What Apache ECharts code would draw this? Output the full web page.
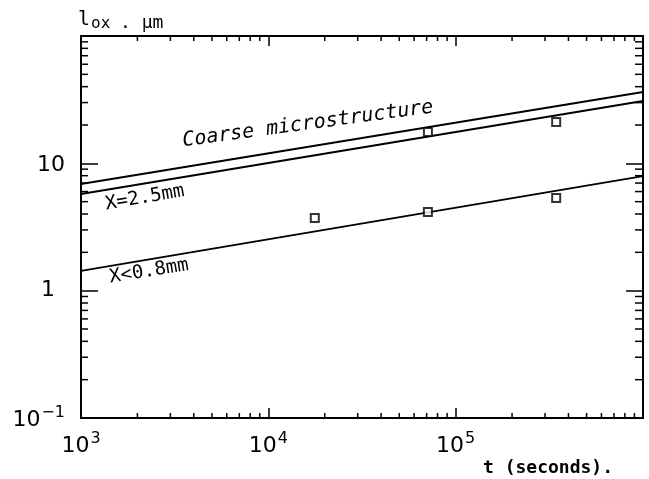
<!DOCTYPE html>
<html>
<head>
<meta charset="utf-8">
<script src="https://cdn.jsdelivr.net/npm/echarts@6/dist/echarts.min.js"></script>
<style>html,body{margin:0;padding:0;background:#fff}#c{width:649px;height:479px}</style>
</head>
<body>
<div id="c"></div>
<script>
// Axis ranges and tick values
const xRange = [1e3, 1e6];
const yRange = [0.1, 100];
const xDecades = [1e3, 1e4, 1e5];
const yDecades = [0.1, 1, 10];
const minorMultipliers = [2, 3, 4, 5, 6, 7, 8, 9];

// Fitted lines (endpoints at t = 1e3 and 1e6)
const coarseLine = [[1e3, 6.88], [1e6, 36.3]];
const x25Line = [[1e3, 5.74], [1e6, 30.9]];
const x08Line = [[1e3, 1.43], [1e6, 7.94]];

// Measured points
const pointsT = [1.77e4, 7.11e4, 7.11e4, 3.44e5, 3.44e5];
const pointsL = [3.72, 17.6, 4.15, 21.1, 5.35];

// Annotation texts
const lineLabels = ['Coarse microstructure', 'X=2.5mm', 'X<0.8mm'];
const yTitleMain = 'l';
const yTitleSub = 'ox';
const yTitleUnit = '. µm';
const xTitle = 't (seconds).';

const xMinor = [];
xDecades.forEach(d => minorMultipliers.forEach(m => xMinor.push(d * m)));
const yMinor = [];
yDecades.forEach(d => minorMultipliers.forEach(m => yMinor.push(+(d * m).toPrecision(3))));

const chart = echarts.init(document.getElementById('c'), null, {renderer: 'canvas'});

const labelFont = 'DejaVu Sans';
const rich = {
  b: {fontFamily: labelFont, fontSize: 22, color: '#000', lineHeight: 26, verticalAlign: 'bottom'},
  s: {fontFamily: labelFont, fontSize: 16, color: '#000', lineHeight: 26, verticalAlign: 'top', padding: [0, 0, 0, 1]},
  one: {fontFamily: labelFont, fontSize: 22, color: '#000', lineHeight: 26, padding: [0, 10, 0, 0]}
};

function xFmt(v) {
  if (v >= xRange[1] * 0.99) return '';
  const e = Math.round(Math.log10(v));
  return '{b|10}{s|' + e + '}';
}
function yFmt(v) {
  if (v >= yRange[1] * 0.99) return '';
  const e = Math.round(Math.log10(v));
  if (e === 0) return '{one|1}';
  if (e === 1) return '{b|10}';
  return '{b|10}{s|' + (e < 0 ? '\u2212' : '') + Math.abs(e) + '}';
}

const axisLine = {show: true, lineStyle: {color: '#000', width: 2}};

const option = {
  animation: false,
  backgroundColor: '#fff',
  grid: {left: 81, top: 36, right: 6, bottom: 61, containLabel: false},
  xAxis: [
    {type: 'log', logBase: 10, min: xRange[0], max: xRange[1], position: 'bottom',
     axisLine, splitLine: {show: false},
     axisTick: {show: true, inside: true, length: 10, lineStyle: {color: '#000', width: 1.5}},
     axisLabel: {show: true, margin: 13, formatter: xFmt, rich, showMaxLabel: false}},
    {type: 'log', logBase: 10, min: xRange[0], max: xRange[1], position: 'top',
     axisLine, splitLine: {show: false},
     axisTick: {show: true, inside: true, length: 10, lineStyle: {color: '#000', width: 1.5}},
     axisLabel: {show: false}}
  ],
  yAxis: [
    {type: 'log', logBase: 10, min: yRange[0], max: yRange[1], position: 'left',
     axisLine, splitLine: {show: false},
     axisTick: {show: true, inside: true, length: 17, lineStyle: {color: '#000', width: 1.5}},
     axisLabel: {show: true, margin: 16, formatter: yFmt, rich, showMaxLabel: false}},
    {type: 'log', logBase: 10, min: yRange[0], max: yRange[1], position: 'right',
     axisLine, splitLine: {show: false},
     axisTick: {show: true, inside: true, length: 17, lineStyle: {color: '#000', width: 1.5}},
     axisLabel: {show: false}}
  ],
  series: [
    {type: 'line', data: coarseLine, showSymbol: false, lineStyle: {color: '#000', width: 1.9}, silent: true},
    {type: 'line', data: x25Line, showSymbol: false, lineStyle: {color: '#000', width: 1.9}, silent: true},
    {type: 'line', data: x08Line, showSymbol: false, lineStyle: {color: '#000', width: 1.9}, silent: true},
    {type: 'scatter', data: pointsT.map((t, i) => [t, pointsL[i]]), symbol: 'rect', symbolSize: 8,
     itemStyle: {color: '#fff', borderColor: '#000', borderWidth: 2}, z: 5, silent: true},
    {type: 'custom', silent: true, clip: false, z: 4,
     data: xMinor.map(v => [v, 1]),
     renderItem: function (params, api) {
       const p = api.coord([api.value(0), 1]);
       const cs = params.coordSys;
       const b = cs.y + cs.height;
       return {type: 'group', children: [
         {type: 'line', shape: {x1: p[0], y1: b, x2: p[0], y2: b - 5}, style: {stroke: '#000', lineWidth: 1.5}},
         {type: 'line', shape: {x1: p[0], y1: cs.y, x2: p[0], y2: cs.y + 5}, style: {stroke: '#000', lineWidth: 1.5}}
       ]};
     }},
    {type: 'custom', silent: true, clip: false, z: 4,
     data: yMinor.map(v => [1e3, v]),
     renderItem: function (params, api) {
       const p = api.coord([1e3, api.value(1)]);
       const cs = params.coordSys;
       const r = cs.x + cs.width;
       return {type: 'group', children: [
         {type: 'line', shape: {x1: cs.x, y1: p[1], x2: cs.x + 7, y2: p[1]}, style: {stroke: '#000', lineWidth: 1.5}},
         {type: 'line', shape: {x1: r, y1: p[1], x2: r - 8, y2: p[1]}, style: {stroke: '#000', lineWidth: 1.5}}
       ]};
     }}
  ],
  graphic: [
    {type: 'text', x: 184, y: 151, rotation: 7.7 * Math.PI / 180,
     style: {text: lineLabels[0], fill: '#000', font: 'italic 20px "DejaVu Sans Mono"', textAlign: 'left', textVerticalAlign: 'bottom'}},
    {type: 'text', x: 107, y: 214, rotation: 9.8 * Math.PI / 180,
     style: {text: lineLabels[1], fill: '#000', font: '19px "DejaVu Sans Mono"', textAlign: 'left', textVerticalAlign: 'bottom'}},
    {type: 'text', x: 111, y: 287, rotation: 9 * Math.PI / 180,
     style: {text: lineLabels[2], fill: '#000', font: '19px "DejaVu Sans Mono"', textAlign: 'left', textVerticalAlign: 'bottom'}},
    {type: 'text', x: 78, y: 30,
     style: {text: yTitleMain, fill: '#000', font: '20px "DejaVu Sans Mono"', textAlign: 'left', textVerticalAlign: 'bottom'}},
    {type: 'text', x: 91, y: 32,
     style: {text: yTitleSub, fill: '#000', font: '16px "DejaVu Sans Mono"', textAlign: 'left', textVerticalAlign: 'bottom'}},
    {type: 'text', x: 120, y: 32,
     style: {text: yTitleUnit, fill: '#000', font: '18px "DejaVu Sans Mono"', textAlign: 'left', textVerticalAlign: 'bottom'}},
    {type: 'text', x: 483, y: 477,
     style: {text: xTitle, fill: '#000', font: 'bold 18px "DejaVu Sans Mono"', textAlign: 'left', textVerticalAlign: 'bottom'}}
  ]
};
chart.setOption(option);
</script>
</body>
</html>
